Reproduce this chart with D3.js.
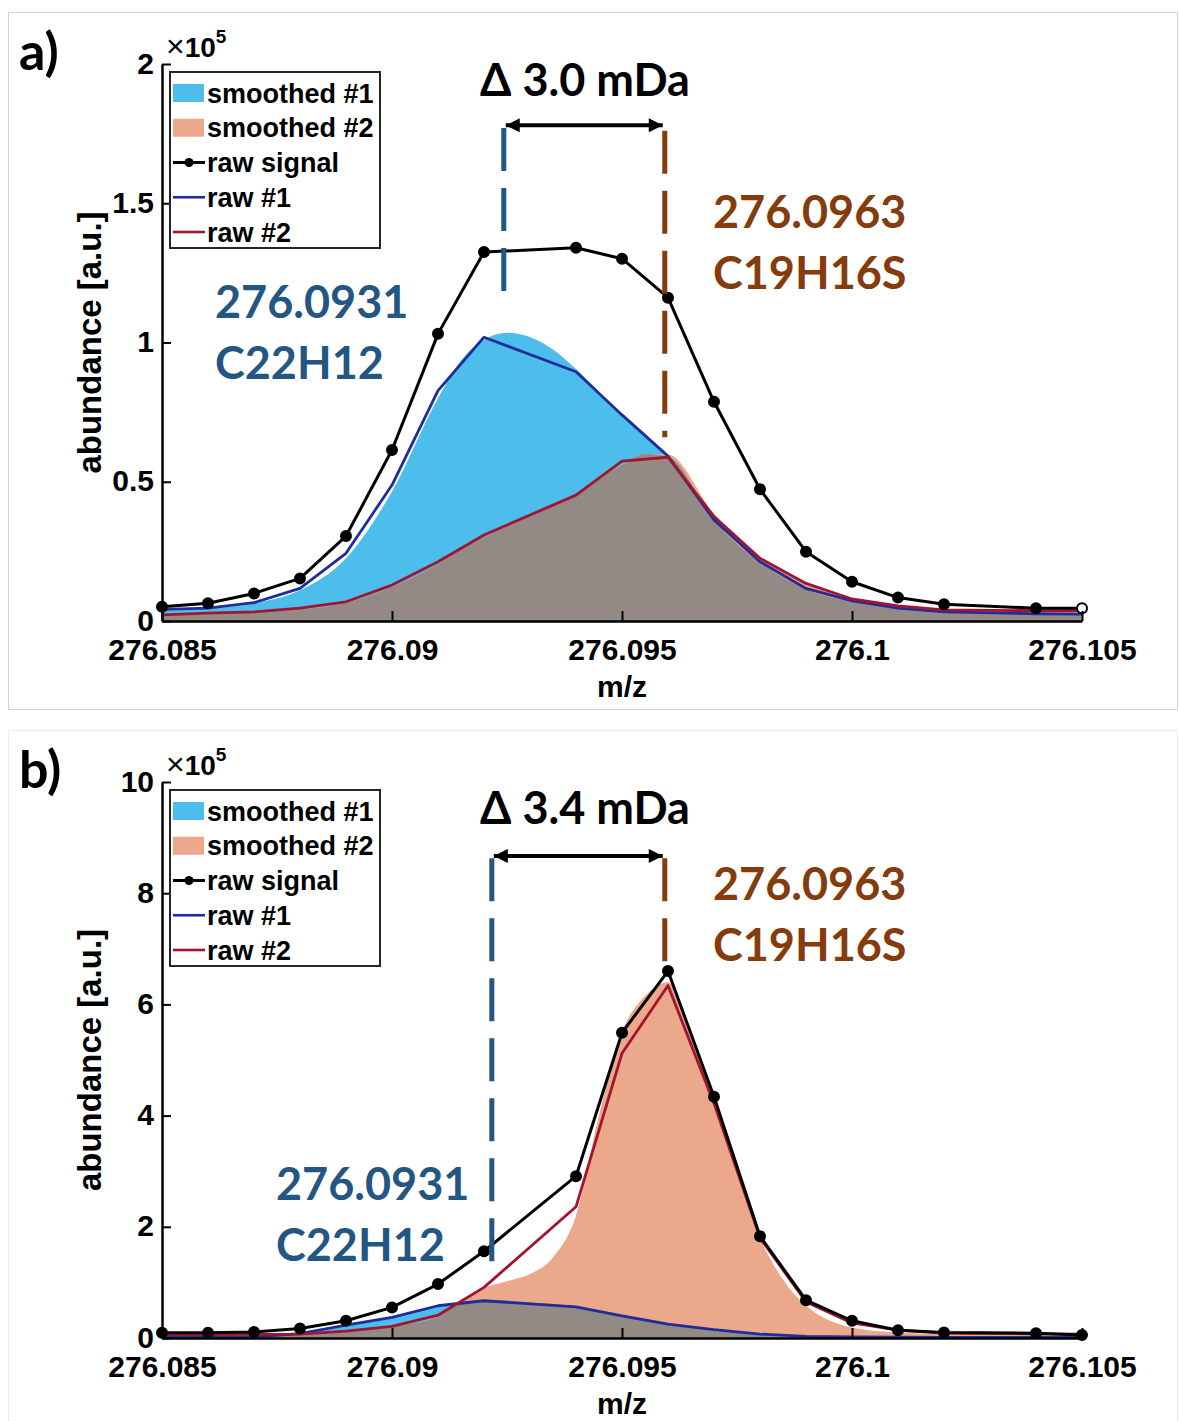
<!DOCTYPE html>
<html>
<head>
<meta charset="utf-8">
<script src="https://cdn.jsdelivr.net/npm/d3@7"></script>
<style>
body { margin: 0; background: #fff; }
svg { display: block; }
</style>
</head>
<body>
<svg id="drawing_region"></svg>
<script>
// shared
const mzTicks = [276.085, 276.09, 276.095, 276.1, 276.105];
const legendLabels = ['smoothed #1', 'smoothed #2', 'raw signal', 'raw #1', 'raw #2'];
const rawMz = [276.085, 276.086, 276.087, 276.088, 276.089, 276.090, 276.091, 276.092, 276.094,
    276.095, 276.096, 276.097, 276.098, 276.099, 276.100, 276.101, 276.102, 276.104, 276.105];

// panel a (x1e5)
const yTicksA = [0, 0.5, 1, 1.5, 2];
const rawSignalA = [0.051, 0.064, 0.099, 0.153, 0.305, 0.614, 1.031, 1.325, 1.340, 1.301, 1.161, 0.787, 0.473, 0.249, 0.141, 0.084, 0.060, 0.046, 0.046];
const raw1A = [0.042, 0.046, 0.066, 0.117, 0.243, 0.488, 0.827, 1.019, 0.895, 0.740, 0.592, 0.363, 0.213, 0.117, 0.072, 0.046, 0.033, 0.026, 0.025];
const raw2A = [0.022, 0.028, 0.033, 0.046, 0.069, 0.129, 0.213, 0.309, 0.452, 0.574, 0.588, 0.375, 0.225, 0.135, 0.079, 0.054, 0.040, 0.037, 0.037];
const smoothMzA = [276.085, 276.086, 276.087, 276.088, 276.089, 276.090, 276.091, 276.0915, 276.092, 276.0925, 276.093, 276.0935,
    276.094, 276.095, 276.0955, 276.096, 276.097, 276.098, 276.099, 276.100, 276.101, 276.102, 276.103, 276.104, 276.105];
const smooth1A = [0.040, 0.045, 0.063, 0.110, 0.225, 0.465, 0.800, 0.935, 1.010, 1.035, 1.020, 0.975,
    0.905, 0.740, 0.665, 0.590, 0.360, 0.210, 0.115, 0.068, 0.045, 0.032, 0.027, 0.025, 0.025];
const smooth2A = [0.020, 0.024, 0.030, 0.042, 0.065, 0.122, 0.205, 0.255, 0.300, 0.340, 0.378, 0.415,
    0.455, 0.560, 0.600, 0.598, 0.385, 0.228, 0.135, 0.080, 0.052, 0.040, 0.036, 0.035, 0.035];

// panel b (x1e5)
const yTicksB = [0, 2, 4, 6, 8, 10];
const rawSignalB = [0.095, 0.095, 0.11, 0.17, 0.31, 0.55, 0.97, 1.56, 2.91, 5.49, 6.60, 4.34, 1.83, 0.68, 0.31, 0.14, 0.10, 0.085, 0.055];
const raw1B = [0.01, 0.01, 0.02, 0.08, 0.23, 0.37, 0.58, 0.67, 0.56, 0.40, 0.25, 0.15, 0.07, 0.03, 0.02, 0.015, 0.01, 0.01, 0.01];
const raw2B = [0.06, 0.06, 0.065, 0.07, 0.125, 0.21, 0.41, 0.91, 2.36, 5.12, 6.34, 4.22, 1.80, 0.65, 0.27, 0.14, 0.09, 0.075, 0.07];
const smoothMzB = [276.085, 276.086, 276.087, 276.088, 276.089, 276.090, 276.091, 276.0915, 276.092, 276.0925, 276.093, 276.0935,
    276.094, 276.0945, 276.095, 276.0955, 276.096, 276.0965, 276.097, 276.0975, 276.098, 276.0985, 276.099, 276.0995,
    276.100, 276.101, 276.102, 276.103, 276.104, 276.105];
const smooth1B = [0.010, 0.012, 0.020, 0.075, 0.210, 0.380, 0.580, 0.650, 0.680, 0.670, 0.640, 0.610,
    0.560, 0.480, 0.400, 0.320, 0.250, 0.200, 0.150, 0.110, 0.070, 0.045, 0.030, 0.020,
    0.015, 0.010, 0.010, 0.010, 0.010, 0.010];
const smooth2B = [0.055, 0.055, 0.060, 0.075, 0.120, 0.200, 0.380, 0.640, 0.900, 1.020, 1.150, 1.450,
    2.200, 4.000, 5.500, 6.150, 6.400, 5.450, 4.250, 3.000, 1.800, 1.050, 0.580, 0.320,
    0.190, 0.100, 0.075, 0.065, 0.060, 0.055];

const colors = {
    smooth1: '#4dbdec',
    smooth2: '#eba88a',
    overlap: '#938a85',
    raw1: '#1f2d9c',
    raw2: '#a2142f',
    signal: '#000000',
    blueNote: '#245683',
    brownNote: '#843c0c'
};

class SpectrumPanel {
    constructor(config, data) {
        this.config = config;
        this.data = data;
        this.init();
    }

    init() {
        let self = this;
        self.svg = d3.select(self.config.parent);
        self.chart = self.svg.append('g');

        self.xscale = d3.scaleLinear()
            .domain([276.085, 276.105])
            .range([162, 1082]);

        self.yscale = d3.scaleLinear()
            .domain([0, self.config.yMax])
            .range([self.config.yBottom, self.config.yTop]);

        self.xaxis = d3.axisBottom(self.xscale)
            .tickValues(mzTicks)
            .tickFormat(d3.format('~g'))
            .tickSize(-10)
            .tickSizeOuter(0)
            .tickPadding(18);

        self.yaxis = d3.axisLeft(self.yscale)
            .tickValues(self.config.yTicks)
            .tickFormat(d3.format('~g'))
            .tickSize(-9)
            .tickSizeOuter(0)
            .tickPadding(8);

        self.area = d3.area()
            .x(d => self.xscale(d.mz))
            .y0(self.yscale(0))
            .y1(d => self.yscale(d.v))
            .curve(d3.curveMonotoneX);

        self.line = d3.line()
            .x(d => self.xscale(d.mz))
            .y(d => self.yscale(d.v));
    }

    render() {
        let self = this;
        const c = self.config;
        const d = self.data;
        const x = self.xscale, y = self.yscale;

        // panel frame
        self.chart.append('rect')
            .attr('x', 8.5).attr('y', c.frameTop + 0.5)
            .attr('width', 1169).attr('height', c.frameHeight)
            .attr('fill', 'none')
            .attr('stroke', c.frameColor)
            .attr('stroke-width', 1);

        // smoothed fills + overlap
        const s1 = toPoints(d.smoothMz, d.smooth1);
        const s2 = toPoints(d.smoothMz, d.smooth2);
        const overlap = d.smoothMz.map((m, i) => ({ mz: m, v: Math.min(d.smooth1[i], d.smooth2[i]) }));

        self.chart.append('path').attr('d', self.area(s1)).attr('fill', colors.smooth1);
        self.chart.append('path').attr('d', self.area(s2)).attr('fill', colors.smooth2);
        self.chart.append('path').attr('d', self.area(overlap)).attr('fill', colors.overlap);

        // raw lines
        [[d.raw1, colors.raw1], [d.raw2, colors.raw2]].forEach(([vals, col]) => {
            self.chart.append('path')
                .attr('d', self.line(toPoints(rawMz, vals)))
                .attr('fill', 'none')
                .attr('stroke', col)
                .attr('stroke-width', 2.8)
                .attr('stroke-linejoin', 'round');
        });

        const sig = toPoints(rawMz, d.signal);
        self.chart.append('path')
            .attr('d', self.line(sig))
            .attr('fill', 'none')
            .attr('stroke', colors.signal)
            .attr('stroke-width', 3)
            .attr('stroke-linejoin', 'round');

        self.chart.selectAll('.marker')
            .data(sig)
            .enter()
            .append('circle')
            .attr('cx', p => x(p.mz))
            .attr('cy', p => y(p.v))
            .attr('r', 5)
            .attr('fill', (p, i) => (c.lastOpen && i === sig.length - 1) ? '#fff' : '#000')
            .attr('stroke', '#000')
            .attr('stroke-width', 2);

        // axes
        const xg = self.chart.append('g')
            .attr('transform', `translate(0, ${c.yBottom})`)
            .call(self.xaxis);
        const yg = self.chart.append('g')
            .attr('transform', `translate(162, 0)`)
            .call(self.yaxis);
        [xg, yg].forEach(g => {
            g.select('.domain').attr('stroke', '#000').attr('stroke-width', 2.5);
            g.selectAll('.tick line').attr('stroke', '#000').attr('stroke-width', 2);
            g.selectAll('.tick text')
                .attr('fill', '#000')
                .attr('font-family', '"Liberation Sans", Arial, sans-serif')
                .attr('font-weight', 'bold')
                .attr('font-size', 30);
        });
        yg.selectAll('.tick text').attr('dy', '0.3em');

        // axis labels
        self.chart.append('text')
            .attr('x', 622).attr('y', c.yBottom + 76)
            .attr('text-anchor', 'middle')
            .attr('font-family', '"Liberation Sans", Arial, sans-serif')
            .attr('font-weight', 'bold')
            .attr('font-size', 30)
            .text('m/z');

        self.chart.append('text')
            .attr('transform', `translate(101, ${(c.yTop + c.yBottom) / 2}) rotate(-90)`)
            .attr('text-anchor', 'middle')
            .attr('font-family', '"Liberation Sans", Arial, sans-serif')
            .attr('font-weight', 'bold')
            .attr('font-size', 33)
            .text('abundance [a.u.]');

        const mult = self.chart.append('text')
            .attr('x', 166).attr('y', c.yTop - 7)
            .attr('font-family', '"Liberation Sans", Arial, sans-serif')
            .attr('font-size', 28);
        mult.append('tspan').attr('font-size', 32).text('×');
        mult.append('tspan').attr('font-weight', 'bold').text('10');
        mult.append('tspan').attr('font-weight', 'bold').attr('font-size', 19).attr('dy', -14).text('5');

        // panel letter
        self.chart.append('text')
            .attr('x', 19).attr('y', c.frameTop + 58)
            .attr('font-family', 'Lato, "Open Sans", sans-serif')
            .attr('font-weight', 'bold')
            .attr('font-size', 52)
            .text(c.letter);

        // dashed markers for the two formulas
        const note = c.note;
        [[note.blueX, note.blueTop, note.blueBottom, colors.blueNote],
         [note.brownX, note.brownTop, note.brownBottom, colors.brownNote]].forEach(([mx, t, b, col]) => {
            self.chart.append('line')
                .attr('x1', x(mx)).attr('x2', x(mx))
                .attr('y1', y(t)).attr('y2', y(b))
                .attr('stroke', col)
                .attr('stroke-width', 5)
                .attr('stroke-dasharray', '43,17');
        });

        self.chart.append('line')
            .attr('x1', x(note.blueX) + 2).attr('x2', x(note.brownX) - 2)
            .attr('y1', y(note.arrowY)).attr('y2', y(note.arrowY))
            .attr('stroke', '#000')
            .attr('stroke-width', 4)
            .attr('marker-start', 'url(#arrowhead)')
            .attr('marker-end', 'url(#arrowhead)');

        const noteFont = 'Lato, "Open Sans", sans-serif';
        self.chart.append('text')
            .attr('x', note.deltaX).attr('y', note.deltaY)
            .attr('text-anchor', 'middle')
            .attr('font-family', noteFont)
            .attr('font-weight', 'bold')
            .attr('font-size', 45)
            .attr('fill', '#000')
            .text(note.delta);

        [[note.blueText, ['276.0931', 'C22H12'], colors.blueNote],
         [note.brownText, ['276.0963', 'C19H16S'], colors.brownNote]].forEach(([pos, lines, col]) => {
            lines.forEach((t, i) => {
                self.chart.append('text')
                    .attr('x', pos[0]).attr('y', pos[1] + i * 61)
                    .attr('font-family', noteFont)
                    .attr('font-weight', 'bold')
                    .attr('font-size', 45)
                    .attr('fill', col)
                    .text(t);
            });
        });

        // legend
        const lx = 170, ly = c.yTop + 8;
        const legend = self.chart.append('g');
        legend.append('rect')
            .attr('x', lx).attr('y', ly)
            .attr('width', 210).attr('height', 176)
            .attr('fill', '#fff')
            .attr('stroke', '#262626')
            .attr('stroke-width', 2);

        legendLabels.forEach((label, i) => {
            const cy = ly + 21 + i * 34.75;
            if (i < 2) {
                legend.append('rect')
                    .attr('x', lx + 3).attr('y', cy - 9)
                    .attr('width', 31).attr('height', 18)
                    .attr('fill', i === 0 ? colors.smooth1 : colors.smooth2);
            } else {
                const col = [colors.signal, colors.raw1, colors.raw2][i - 2];
                legend.append('line')
                    .attr('x1', lx + 3).attr('x2', lx + 35)
                    .attr('y1', cy).attr('y2', cy)
                    .attr('stroke', col)
                    .attr('stroke-width', i === 2 ? 3 : 2.6);
                if (i === 2) {
                    legend.append('circle')
                        .attr('cx', lx + 19).attr('cy', cy).attr('r', 4.5)
                        .attr('fill', '#000');
                }
            }
            legend.append('text')
                .attr('x', lx + 37).attr('y', cy)
                .attr('dy', '0.36em')
                .attr('font-family', '"Liberation Sans", Arial, sans-serif')
                .attr('font-weight', 'bold')
                .attr('font-size', 27)
                .attr('fill', '#000')
                .text(label);
        });
    }
}

function toPoints(mz, vals) {
    return mz.map((m, i) => ({ mz: m, v: vals[i] }));
}

const svg = d3.select('#drawing_region')
    .attr('width', 1180)
    .attr('height', 1421);

svg.append('rect').attr('width', 1180).attr('height', 1421).attr('fill', '#fff');

svg.append('defs').append('marker')
    .attr('id', 'arrowhead')
    .attr('viewBox', '0 0 10 10')
    .attr('refX', 10).attr('refY', 5)
    .attr('markerUnits', 'userSpaceOnUse')
    .attr('markerWidth', 16).attr('markerHeight', 14)
    .attr('orient', 'auto-start-reverse')
    .append('path')
    .attr('d', 'M0,0 L10,5 L0,10 z')
    .attr('fill', '#000');

const panelA = new SpectrumPanel({
    parent: '#drawing_region',
    letter: 'a)',
    frameTop: 12, frameHeight: 697, frameColor: '#d4d4d4',
    yTop: 64, yBottom: 621, yMax: 2, yTicks: yTicksA,
    lastOpen: true,
    note: {
        delta: 'Δ 3.0 mDa', deltaX: 585, deltaY: 96,
        blueX: 276.09243, brownX: 276.09593, arrowY: 1.78,
        blueTop: 1.77, blueBottom: 1.17, brownTop: 1.76, brownBottom: 0.66,
        blueText: [215, 318], brownText: [713, 228]
    }
}, {
    signal: rawSignalA, raw1: raw1A, raw2: raw2A,
    smoothMz: smoothMzA, smooth1: smooth1A, smooth2: smooth2A
});
panelA.render();

const panelB = new SpectrumPanel({
    parent: '#drawing_region',
    letter: 'b)',
    frameTop: 730, frameHeight: 720, frameColor: '#ebebeb',
    yTop: 782, yBottom: 1338, yMax: 10, yTicks: yTicksB,
    lastOpen: false,
    note: {
        delta: 'Δ 3.4 mDa', deltaX: 585, deltaY: 824,
        blueX: 276.09217, brownX: 276.09593, arrowY: 8.67,
        blueTop: 8.63, blueBottom: 1.19, brownTop: 8.63, brownBottom: 6.7,
        blueText: [276, 1200], brownText: [713, 900]
    }
}, {
    signal: rawSignalB, raw1: raw1B, raw2: raw2B,
    smoothMz: smoothMzB, smooth1: smooth1B, smooth2: smooth2B
});
panelB.render();
</script>
</body>
</html>
